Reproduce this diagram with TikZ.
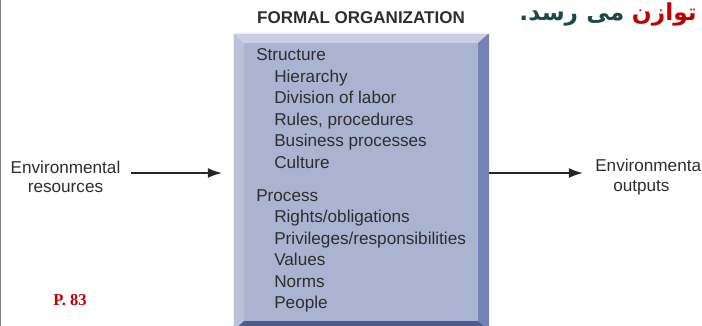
\documentclass[tikz,border=0pt]{standalone}
\usepackage{fontspec}
\setmainfont{Liberation Sans}
\newfontfamily\arabicfont[Script=Arabic]{DejaVu Sans}
\newfontfamily\pageserif{Liberation Serif}
\TeXXeTstate=1
\usetikzlibrary{arrows.meta,calc,positioning,fit}
\definecolor{facecol}{HTML}{AAB4D0}
\definecolor{topcol}{HTML}{C9D0E3}
\definecolor{leftcol}{HTML}{BAC2DA}
\definecolor{rightcol}{HTML}{7482B5}
\definecolor{bottomcol}{HTML}{4B5C94}
\definecolor{textgray}{HTML}{2E2E2E}
\definecolor{titlered}{HTML}{C00000}
\definecolor{titleteal}{HTML}{1C4A4C}
\tikzset{
    itemtext/.style={anchor=base west,inner sep=0pt,font=\fontsize{12.2}{14}\selectfont,text=textgray},
    envtext/.style={inner sep=0pt,align=center,font=\fontsize{12.2}{14}\selectfont,text=textgray},
    headtext/.style={inner sep=0pt,font=\arabicfont\bfseries\fontsize{16.6}{20}\selectfont},
    flowarrow/.style={-{Latex[length=10pt,width=7pt]},line width=1.1pt,draw=black!85}
}

\begin{document}
\begin{tikzpicture}[x=0.025cm,y=-0.025cm]
  \useasboundingbox (0,0) rectangle (702,326);
  \clip (0,0) rectangle (702,326);
  % slide border
  \draw[gray,line width=1.2pt] (0.5,0) -- (0.5,326);

  %---------------- beveled box ----------------
  \coordinate (o1) at (233,33);
  \coordinate (o2) at (489,331);
  \coordinate (i1) at (244,43);
  \coordinate (i2) at (478,321);
  \node[fit=(o1)(o2),inner sep=0pt] (org) {};
  \fill[topcol] (o1) -- (o1-|o2) -- (i1-|i2) -- (i1) -- cycle;
  \fill[leftcol] (o1) -- (i1) -- (i1|-i2) -- (o1|-o2) -- cycle;
  \fill[rightcol] (o1-|o2) -- (o2) -- (i2) -- (i1-|i2) -- cycle;
  \fill[bottomcol] (o1|-o2) -- (i1|-i2) -- (i2) -- (o2) -- cycle;
  \fill[facecol] (i1) rectangle (i2);
  \draw[white!80!facecol,line width=0.4pt] (o1) rectangle (o2);

  % title
  \node[anchor=base,inner sep=0pt,font=\fontsize{12.1}{14}\bfseries\selectfont,text=textgray]
       (title) at (361,24) {FORMAL ORGANIZATION};

  % list in the box
  \node[itemtext] (structure) at (256,61) {Structure};
  \foreach \t/\y [count=\i] in {Hierarchy/83,Division of labor/104,{Rules, procedures}/126,
                                Business processes/147,Culture/169}{
      \node[itemtext] (s-\i) at (274,\y) {\t};
  }
  \node[itemtext] (process) at (256,202) {Process};
  \foreach \t/\y [count=\i] in {{Rights/obligations}/223,{Privileges/responsibilities}/245,
                                Values/266,Norms/288,People/309}{
      \node[itemtext] (p-\i) at (274,\y) {\t};
  }

  %---------------- inputs and outputs ----------------
  \node[envtext] (envin) at (65.5,177) {Environmental\\resources};
  \node[envtext,anchor=west,align=left] (envout) at (595,177) {Environmenta\\\hspace*{12.8pt}outputs};
  \coordinate (in-start) at (131,173);
  \coordinate (in-end) at (222,173);
  \coordinate (out-end) at (583,173);
  \draw[flowarrow] (in-start) -- (in-end);
  \draw[flowarrow] (org.east|-out-end) -- (out-end);

  % persian heading
  \node[headtext,anchor=base east,text=titlered] (head-r) at (697,21) {\beginR توازن\endR};
  \node[headtext,anchor=base east,text=titleteal] (head-l) at ([xshift=-5pt]head-r.base west) {\beginR می رسد.\endR};

  % page ref
  \node[anchor=base west,inner sep=0pt,font=\pageserif\bfseries\fontsize{11.8}{14}\selectfont,text=titlered]
       (pageref) at (53,306) {P. 83};
\end{tikzpicture}
\end{document}
